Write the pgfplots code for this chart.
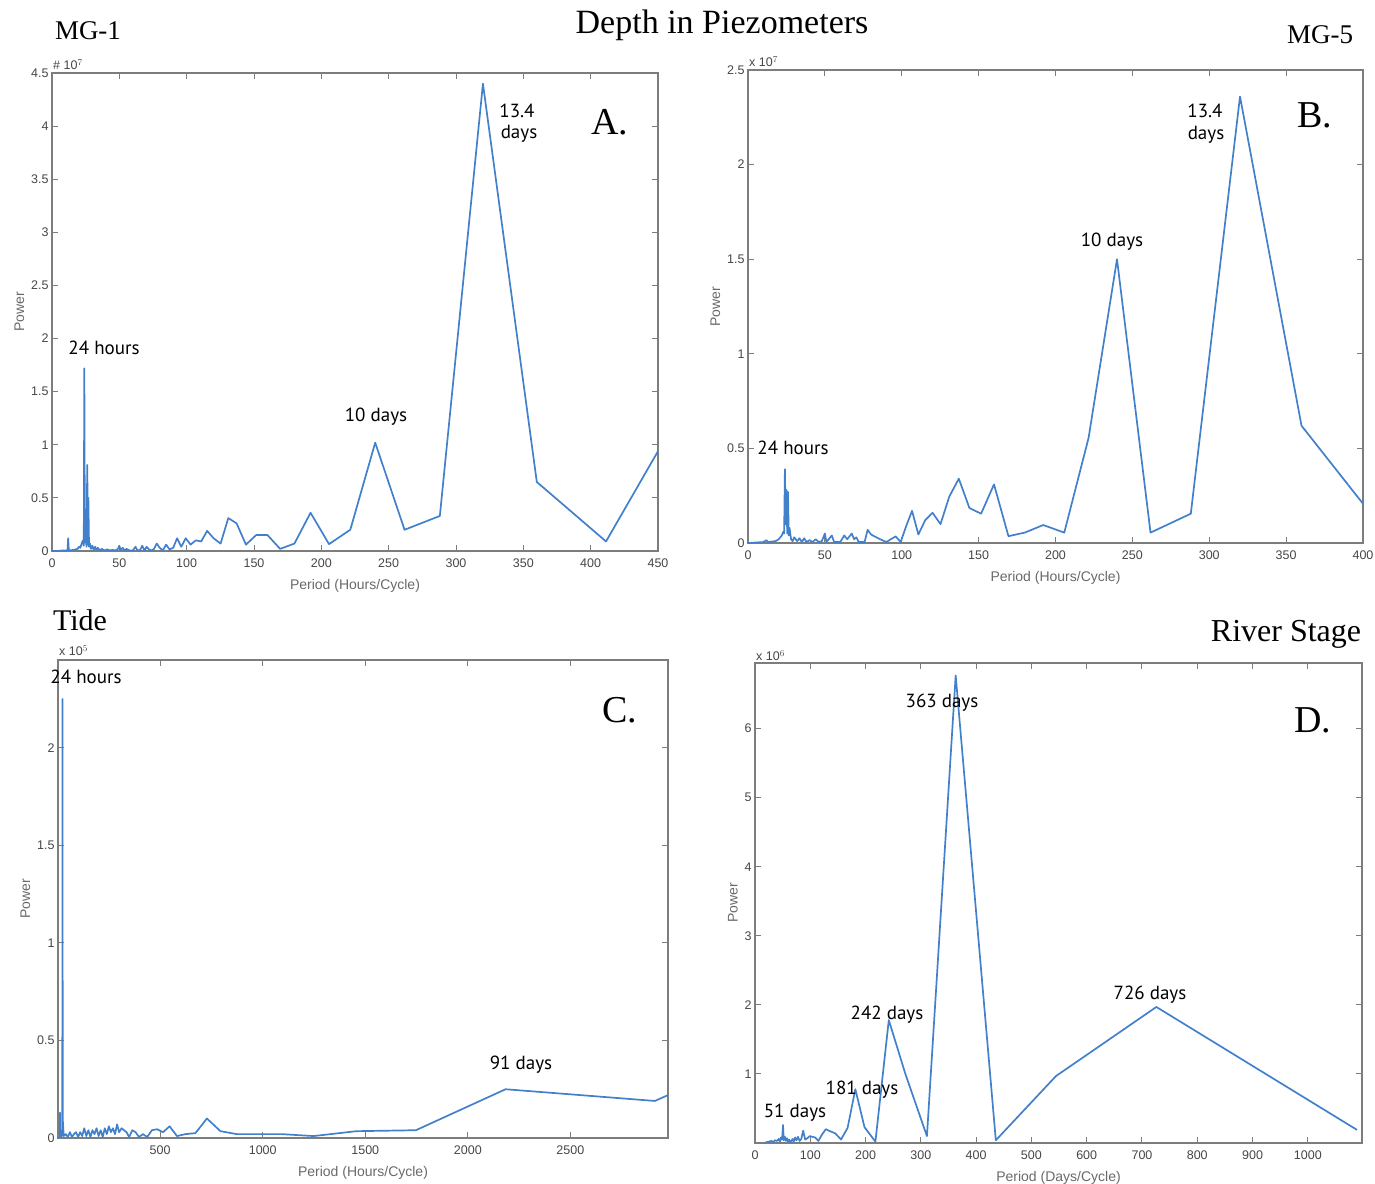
\documentclass[border=0pt]{standalone}
\usepackage{fontspec}
\setmainfont{Liberation Serif}
\setsansfont{Liberation Sans}
\newfontfamily\annot{PT Sans}
\usepackage{pgfplots}
\pgfplotsset{compat=1.18}

\definecolor{mblue}{RGB}{66,128,204}
\definecolor{axgray}{RGB}{125,125,125}
\definecolor{lblgray}{RGB}{70,70,70}
\definecolor{ttlgray}{RGB}{105,105,105}

\pgfplotsset{
  mat/.style={
    scale only axis, anchor=south west,
    axis line style={axgray, line width=1.3pt},
    every tick/.style={axgray, line width=1pt},
    major tick length=6pt, tick align=inside,
    tick label style={font=\sffamily\fontsize{12.5}{14}\selectfont, text=lblgray},
    xticklabel style={yshift=-4pt},
    /pgf/number format/assume math mode=true,
    /pgf/number format/1000 sep={},
    label style={font=\sffamily\fontsize{14}{16}\selectfont, text=ttlgray},
    xlabel style={yshift=-5pt},
    ylabel={Power},
    scaled ticks=false,
  },
  ln/.style={mblue, line width=1.7pt, line join=round, no marks},
}
\newcommand{\ann}[1]{{\annot\fontsize{19}{22}\selectfont #1}}

\begin{document}
\begin{tikzpicture}
\useasboundingbox (0pt,0pt) rectangle (1375pt,-1183pt);

% ---------- A: MG-1 ----------
\begin{axis}[mat, at={(52pt,-551pt)}, width=606pt, height=478pt,
  xmin=0, xmax=450, ymin=0, ymax=4.5,
  xtick={0,50,...,450}, ytick={0,0.5,...,4.5},
  xlabel={Period (Hours/Cycle)}]
\addplot[ln] coordinates {
 (0,0) (4,0) (8,0.005) (11.5,0.005) (12,0.12) (12.5,0.005) (16,0.01) (19,0.02)
 (20,0.04) (21,0.03) (22,0.07) (23,0.1) (23.6,0.05) (24,1.72) (24.4,0.08)
 (25,0.16) (25.6,0.04) (26.2,0.81) (26.6,0.06) (27,0.5) (27.5,0.04) (28.2,0.07)
 (29,0.02) (30,0.05) (31,0.01) (32,0.04) (33,0.01) (34,0.03) (35.5,0.005)
 (37,0.02) (39,0.005) (41,0.015) (43,0.005) (45,0.01) (47,0.005) (49,0.02)
 (50,0.05) (51,0.01) (52.5,0.03) (54,0.005) (55.4,0.02) (57.6,0.005) (60,0.005)
 (62,0.04) (63.5,0.005) (65.5,0.01) (67,0.05) (68.6,0.005) (70.2,0.04) (72,0.015)
 (73.8,0.005) (75.8,0.02) (77.8,0.07) (80,0.03) (82.3,0.005) (84.7,0.06)
 (87.3,0.015) (90,0.03) (92.9,0.12) (96,0.04) (99.3,0.12) (102.9,0.06)
 (106.7,0.1) (110.8,0.09) (115.2,0.19) (120,0.12) (125.2,0.07) (130.9,0.31)
 (137.1,0.26) (144,0.06) (151.6,0.15) (160,0.15) (169.4,0.02) (180,0.07)
 (192,0.36) (205.7,0.065) (221.5,0.2) (240,1.02) (261.8,0.2) (288,0.33)
 (320,4.4) (360,0.65) (411.4,0.09) (480,1.6)
};
\end{axis}

% ---------- B: MG-5 ----------
\begin{axis}[mat, at={(748pt,-543pt)}, width=615pt, height=473pt,
  xmin=0, xmax=400, ymin=0, ymax=2.5,
  xtick={0,50,...,400}, ytick={0,0.5,...,2.5},
  xlabel={Period (Hours/Cycle)}]
\addplot[ln] coordinates {
 (0,0) (10,0.005) (12,0.015) (13,0.005) (18,0.01) (20,0.02) (21,0.03) (22,0.04)
 (23,0.06) (23.5,0.05) (24,0.39) (24.5,0.1) (25,0.28) (25.5,0.05) (26,0.27)
 (26.5,0.04) (27,0.08) (28,0.02) (29,0.01) (30,0.03) (32,0.01) (33.5,0.025)
 (35,0.005) (36.5,0.025) (38,0.005) (40,0.015) (42,0.005) (44,0.02) (46,0.005)
 (48,0.01) (50,0.05) (51,0.005) (54.5,0.04) (56,0.005) (60,0.005) (62.6,0.04)
 (64.5,0.02) (67.5,0.05) (69,0.02) (70.5,0.03) (72,0.005) (75.8,0.005)
 (77.8,0.07) (80,0.045) (82.3,0.035) (84.7,0.025) (87.3,0.015) (90,0.005)
 (92.9,0.02) (96,0.035) (99.3,0.005) (102.9,0.09) (106.7,0.17) (110.8,0.045)
 (115.2,0.12) (120,0.16) (125.2,0.1) (130.9,0.245) (137.1,0.34) (144,0.185)
 (151.6,0.155) (160,0.31) (169.4,0.036) (180,0.055) (192,0.095) (205.7,0.055)
 (221.5,0.555) (240,1.5) (261.8,0.055) (288,0.155) (320,2.36) (360,0.62)
 (411.4,0.09)
};
\end{axis}

% ---------- C: Tide ----------
\begin{axis}[mat, at={(58pt,-1138pt)}, width=610pt, height=478pt,
  xmin=2, xmax=2976, ymin=0, ymax=2.45,
  xtick={500,1000,...,2500}, ytick={0,0.5,...,2},
  xlabel={Period (Hours/Cycle)}]
\addplot[ln] coordinates {
 (2,0) (10,0.005) (12,0.13) (12.5,0.005) (20,0.01) (23,0.06) (24,2.25) (25,0.1)
 (30,0.01) (40,0.02) (50,0.005) (60,0.03) (70,0.005) (80,0.02) (90,0.03)
 (100,0.005) (110,0.03) (120,0.01) (130,0.05) (140,0.01) (150,0.04) (160,0.005)
 (170,0.04) (180,0.02) (190,0.05) (200,0.01) (210,0.04) (220,0.005) (230,0.05)
 (240,0.02) (250,0.06) (260,0.03) (270,0.05) (280,0.02) (290,0.07) (300,0.03)
 (312,0.05) (323.6,0.04) (336,0.03) (349,0.005) (364,0.04) (380,0.03)
 (397,0.005) (416,0.02) (436.8,0.005) (460,0.04) (485,0.045) (514,0.03)
 (546,0.06) (582,0.01) (624,0.02) (672,0.025) (728,0.1) (794,0.035)
 (873.6,0.02) (970.7,0.02) (1092,0.02) (1248,0.01) (1456,0.035) (1747,0.04)
 (2184,0.25) (2912,0.19) (4368,0.87)
};
\end{axis}

% ---------- D: River Stage ----------
\begin{axis}[mat, at={(755pt,-1143pt)}, width=607pt, height=480pt,
  xmin=0, xmax=1098, ymin=0, ymax=6.95,
  xtick={0,100,...,1000}, ytick={1,2,...,6},
  xlabel={Period (Days/Cycle)}]
\addplot[ln] coordinates {
 (18,0) (20,0.01) (25,0.02) (30,0.03) (33,0.01) (36,0.04) (40,0.03) (43,0.06)
 (45,0.02) (47,0.08) (49,0.05) (50.65,0.26) (52,0.04) (54,0.09) (56,0.03)
 (58,0.07) (60,0.02) (62,0.05) (64,0.01) (66,0.03) (68,0.06) (70,0.02)
 (72.6,0.08) (75.1,0.04) (77.8,0.09) (80.7,0.03) (83.8,0.06) (87.1,0.18)
 (90.75,0.05) (94.7,0.07) (99,0.1) (103.7,0.09) (108.9,0.08) (114.6,0.03)
 (121,0.12) (128,0.2) (136,0.17) (145.2,0.14) (155.6,0.05) (167.5,0.22)
 (181.5,0.78) (198,0.23) (217.8,0.02) (242,1.78) (272,1.0) (311,0.1)
 (363,6.77) (435.6,0.04) (544.5,0.97) (726,1.97) (1089,0.19)
};
\end{axis}

% scale factors
\node[anchor=south west, inner sep=0pt, font=\sffamily\fontsize{12.5}{14}\selectfont, text=lblgray] at (53pt,-70pt) {\# 10$^{7}$};
\node[anchor=south west, inner sep=0pt, font=\sffamily\fontsize{12.5}{14}\selectfont, text=lblgray] at (749pt,-67pt) {x 10$^{7}$};
\node[anchor=south west, inner sep=0pt, font=\sffamily\fontsize{12.5}{14}\selectfont, text=lblgray] at (59pt,-656pt) {x 10$^{5}$};
\node[anchor=south west, inner sep=0pt, font=\sffamily\fontsize{12.5}{14}\selectfont, text=lblgray] at (756pt,-661pt) {x 10$^{6}$};

% titles
\node[font=\fontsize{34}{37}\selectfont] at (722pt,-25pt) {Depth in Piezometers};
\node[font=\fontsize{27}{30}\selectfont] at (88pt,-31pt) {MG-1};
\node[font=\fontsize{27}{30}\selectfont] at (1320pt,-35pt) {MG-5};
\node[font=\fontsize{30}{33}\selectfont] at (80pt,-620pt) {Tide};
\node[font=\fontsize{32}{35}\selectfont] at (1286pt,-634pt) {River Stage};

% panel letters
\node[font=\fontsize{38}{40}\selectfont] at (610pt,-122pt) {A.};
\node[font=\fontsize{38}{40}\selectfont] at (1315pt,-115pt) {B.};
\node[font=\fontsize{38}{40}\selectfont] at (620pt,-710pt) {C.};
\node[font=\fontsize{38}{40}\selectfont] at (1313pt,-720pt) {D.};

% annotations
\node at (104pt,-348pt) {\ann{24 hours}};
\node at (376pt,-417pt) {\ann{10 days}};
\node at (517pt,-111pt) {\ann{13.4}};
\node at (519pt,-134pt) {\ann{days}};
\node at (793pt,-448pt) {\ann{24 hours}};
\node at (1112pt,-242pt) {\ann{10 days}};
\node at (1205pt,-111pt) {\ann{13.4}};
\node at (1206pt,-135pt) {\ann{days}};
\node at (86pt,-677pt) {\ann{24 hours}};
\node at (521pt,-1065pt) {\ann{91 days}};
\node at (942pt,-703pt) {\ann{363 days}};
\node at (887pt,-1015pt) {\ann{242 days}};
\node at (862pt,-1090pt) {\ann{181 days}};
\node at (795pt,-1113pt) {\ann{51 days}};
\node at (1150pt,-995pt) {\ann{726 days}};
\end{tikzpicture}
\end{document}
